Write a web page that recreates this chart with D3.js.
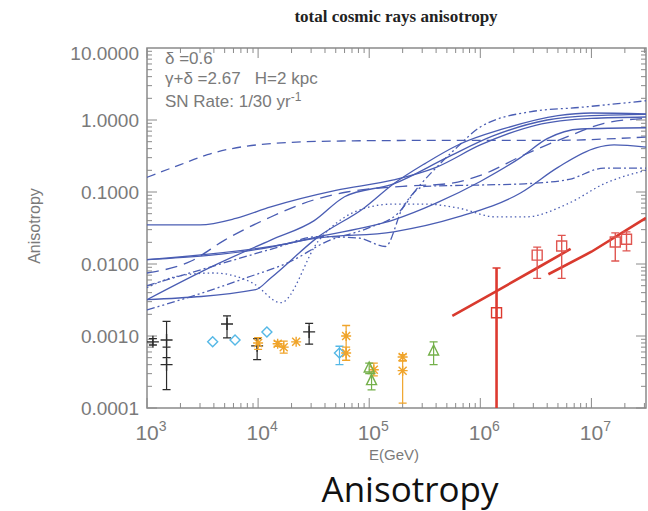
<!DOCTYPE html>
<html>
<head>
<meta charset="utf-8">
<script src="https://cdn.jsdelivr.net/npm/d3@7"></script>
<style>
  body { margin: 0; background: #fff; }
  text { font-family: "Liberation Sans", Arial, sans-serif; }
</style>
</head>
<body>
<div id="chart"></div>
<script>
// Tick labels
const yTickValues = [1e-4, 1e-3, 1e-2, 1e-1, 1, 10];
const yTickLabels = ["0.0001", "0.0010", "0.0100", "0.1000", "1.0000", "10.0000"];
const xTickExps = [3, 4, 5, 6, 7];

// Model curves [E (GeV), anisotropy]
const curveDashedTop = [[1e3,0.16],[2e3,0.24],[3.5e3,0.33],[1.3e4,0.47],[5e4,0.51],[3e5,0.52],[4e6,0.52],[3.1e7,0.58]];
const curveSolidA = [[1e3,0.035],[3e3,0.035],[6.3e3,0.043],[1.3e4,0.062],[5e4,0.105],[1.66e5,0.147],[4e5,0.22],[1e6,0.45],[3.2e6,0.85],[1e7,1.05],[3.1e7,1.1]];
const curveSolidB = [[1e3,0.0115],[1.3e4,0.0172],[3.5e4,0.024],[1.66e5,0.041],[4e5,0.07],[1e6,0.14],[2.3e6,0.3],[4e6,0.55],[8e6,0.75],[3.1e7,0.78]];
const curveSolidC = [[1e3,0.0115],[1.3e4,0.0175],[3.5e4,0.023],[1.66e5,0.028],[6.3e5,0.045],[2.3e6,0.097],[5e6,0.22],[1.1e7,0.41],[1.6e7,0.45],[3.1e7,0.42]];
const curveSolidD = [[1e3,0.0032],[9.5e3,0.0044],[1.3e4,0.0064],[3.5e4,0.024],[9e4,0.06],[1.66e5,0.13],[3.2e5,0.25],[6.3e5,0.45],[1.6e6,0.75],[5e6,1.15],[1e7,1.25],[3.1e7,1.22]];
const curveSolidE = [[1e3,0.0032],[4e3,0.0095],[1.3e4,0.0215],[3.2e4,0.04],[6e4,0.086],[1.66e5,0.13],[5e5,0.3],[1.3e6,0.6],[4e6,1.0],[1e7,1.15],[3.1e7,1.2]];
const curveLongDash = [[1e3,0.0075],[2.5e3,0.011],[5e3,0.0215],[1.3e4,0.045],[3.2e4,0.078],[6.3e4,0.1],[2e5,0.12],[5e5,0.13],[1e6,0.17],[2.5e6,0.33],[6.3e6,0.6],[1.3e7,0.9],[3.1e7,1.05]];
const curveDashDot = [[1e3,0.005],[3.2e3,0.0085],[1.3e4,0.016],[3.5e4,0.024],[8e4,0.023],[1.4e5,0.0175],[2e5,0.06],[3.2e5,0.12],[1e6,0.125],[2.5e6,0.13],[6.3e6,0.15],[1.3e7,0.215],[3.1e7,0.215]];
const curveDashDotDot = [[1e3,0.0023],[3.2e3,0.004],[8e3,0.0065],[2e4,0.011],[4e4,0.02],[1e5,0.032],[1.8e5,0.05],[2.8e5,0.12],[3.8e5,0.2],[6.2e5,0.42],[1e6,0.8],[2.8e6,1.3],[8e6,1.5],[3.1e7,1.85]];
const curveDotted = [[1e3,0.0047],[2e3,0.0069],[4e3,0.0075],[9e3,0.0054],[1.6e4,0.0029],[3.5e4,0.021],[9.3e4,0.06],[1.66e5,0.068],[3.2e5,0.068],[6.3e5,0.06],[1.4e6,0.045],[2.5e6,0.045],[6.3e6,0.07],[1.3e7,0.13],[3.1e7,0.2]];

// Measurements [E, anisotropy, low, high]
const blackPoints = [[1.13e3,0.00083,0.00075,0.00092],[1.5e3,0.00088,0.0005,0.0016],[1.5e3,0.0004,0.00018,0.0007],[5.25e3,0.00147,0.00094,0.0019],[9.8e3,0.00073,0.00047,0.00092],[2.88e4,0.00114,0.00077,0.0015]];
const cyanPoints = [[3.9e3,0.00083,0.00083,0.00083],[6.2e3,0.00088,0.00088,0.00088],[1.2e4,0.00114,0.00114,0.00114],[5.4e4,0.00058,0.0004,0.00072]];
const orangePoints = [[1e4,0.0008,0.00065,0.00095],[1.5e4,0.00078,0.00072,0.00084],[1.7e4,0.0007,0.00058,0.00085],[2.2e4,0.00083,0.00083,0.00083],[6.2e4,0.001,0.00046,0.0014],[6.2e4,0.00058,0.00046,0.0007],[1.1e5,0.00034,0.00028,0.00042],[2.0e5,0.00051,0.00045,0.00055],[2.0e5,0.00033,0.000117,0.00045]];
const greenPoints = [[1.0e5,0.00036,0.0003,0.00042],[1.05e5,0.00024,0.000178,0.0003],[3.8e5,0.00062,0.0004,0.00083]];
const redPoints = [[1.4e6,0.0021,0.00005,0.0088],[3.25e6,0.0133,0.0063,0.0172],[5.4e6,0.0178,0.0063,0.025],[1.64e7,0.0202,0.011,0.027],[2.07e7,0.0221,0.0152,0.028]];
const redLine1 = [[5.6e5,0.0019],[1.4e6,0.0042],[3.25e6,0.0088],[6.5e6,0.0162]];
const redLine2 = [[4.1e6,0.0072],[1e7,0.0148],[3.1e7,0.0436]];

const width = 648, height = 511;
const plot = { left: 147, right: 646, top: 48, bottom: 408 };

const svg = d3.select("#chart")
    .append("svg")
    .attr("width", width)
    .attr("height", height);

const x = d3.scaleLog().domain([1e3, 3.1e7]).range([plot.left, plot.right]);
const y = d3.scaleLog().domain([1e-4, 10]).range([plot.bottom, plot.top]);

const axisColor = "#8a8a8a";
const labelColor = "#7a7a7a";

svg.append("clipPath").attr("id", "clip")
    .append("rect")
    .attr("x", plot.left).attr("y", plot.top)
    .attr("width", plot.right - plot.left).attr("height", plot.bottom - plot.top);

// Title
svg.append("text")
    .attr("x", 396).attr("y", 22)
    .style("text-anchor", "middle")
    .style("font-family", "'Liberation Serif', 'Times New Roman', serif")
    .style("font-size", "17px")
    .style("font-weight", "bold")
    .style("fill", "#222")
    .text("total cosmic rays anisotropy");

// Frame
svg.append("rect")
    .attr("x", plot.left).attr("y", plot.top)
    .attr("width", plot.right - plot.left).attr("height", plot.bottom - plot.top)
    .attr("fill", "none")
    .attr("stroke", axisColor)
    .attr("stroke-width", 1.5);

// Inward ticks on all sides
const ticks = svg.append("g").attr("stroke", axisColor).attr("stroke-width", 1);
for (let p = -4; p <= 0; p++) {
    for (let m = 1; m <= 9; m++) {
        const v = m * Math.pow(10, p);
        const len = m === 1 ? 10 : 5;
        ticks.append("line").attr("x1", plot.left).attr("x2", plot.left + len).attr("y1", y(v)).attr("y2", y(v));
        ticks.append("line").attr("x1", plot.right).attr("x2", plot.right - len).attr("y1", y(v)).attr("y2", y(v));
    }
}
for (let p = 3; p <= 7; p++) {
    for (let m = 1; m <= 9; m++) {
        const v = m * Math.pow(10, p);
        if (v > 3.1e7) continue;
        const len = m === 1 ? 10 : 5;
        ticks.append("line").attr("y1", plot.bottom).attr("y2", plot.bottom - len).attr("x1", x(v)).attr("x2", x(v));
        ticks.append("line").attr("y1", plot.top).attr("y2", plot.top + len).attr("x1", x(v)).attr("x2", x(v));
    }
}

// Y tick labels
svg.selectAll(".ylab")
    .data(yTickValues)
    .enter()
    .append("text")
    .attr("x", plot.left - 8)
    .attr("y", (d, i) => y(d) + 7 + (i === yTickValues.length - 1 ? 5 : 0))
    .style("text-anchor", "end")
    .style("font-size", "19px")
    .style("fill", labelColor)
    .text((d, i) => yTickLabels[i]);

// X tick labels
const xl = svg.selectAll(".xlab")
    .data(xTickExps)
    .enter()
    .append("text")
    .attr("x", d => x(Math.pow(10, d)) + 4)
    .attr("y", 440)
    .style("text-anchor", "middle")
    .style("font-size", "21px")
    .style("fill", labelColor);
xl.append("tspan").text("10");
xl.append("tspan").attr("dy", -9).style("font-size", "14px").text(d => d);

// Axis titles
svg.append("text")
    .attr("x", 394).attr("y", 460)
    .style("text-anchor", "middle")
    .style("font-size", "15px")
    .style("fill", labelColor)
    .text("E(GeV)");

svg.append("text")
    .attr("transform", "rotate(-90)")
    .attr("x", -226).attr("y", 40)
    .style("text-anchor", "middle")
    .style("font-size", "16px")
    .style("fill", labelColor)
    .text("Anisotropy");

// Parameter text
const info = svg.append("g").style("font-size", "17px").style("fill", labelColor);
info.append("text").attr("x", 165).attr("y", 64).text("\u03b4 =0.6");
info.append("text").attr("x", 165).attr("y", 84).text("\u03b3+\u03b4 =2.67\u00a0\u00a0\u00a0H=2 kpc");
const sn = info.append("text").attr("x", 165).attr("y", 107);
sn.append("tspan").text("SN Rate: 1/30 yr");
sn.append("tspan").attr("dy", -6).style("font-size", "12px").text("-1");

// Model curves
const line = d3.line()
    .x(d => x(d[0]))
    .y(d => y(d[1]))
    .curve(d3.curveMonotoneX);

const curves = [
    { data: curveDashedTop, dash: "9,6" },
    { data: curveSolidA, dash: null },
    { data: curveSolidB, dash: null },
    { data: curveSolidC, dash: null },
    { data: curveSolidD, dash: null },
    { data: curveSolidE, dash: null },
    { data: curveLongDash, dash: "12,7" },
    { data: curveDashDot, dash: "8,3,2,3" },
    { data: curveDashDotDot, dash: "8,3,2,3,2,3" },
    { data: curveDotted, dash: "1.5,3" }
];

const curveG = svg.append("g").attr("clip-path", "url(#clip)");
curveG.selectAll(".model")
    .data(curves)
    .enter()
    .append("path")
    .attr("class", "model")
    .attr("d", d => line(d.data))
    .attr("fill", "none")
    .attr("stroke", "#4a5db3")
    .attr("stroke-width", 1.3)
    .attr("stroke-dasharray", d => d.dash);

// Red fitted lines
curveG.selectAll(".redline")
    .data([redLine1, redLine2])
    .enter()
    .append("path")
    .attr("d", d => d3.line().x(p => x(p[0])).y(p => y(p[1]))(d))
    .attr("fill", "none")
    .attr("stroke", "#d93a2e")
    .attr("stroke-width", 2.6);

// Measurements with error bars
function drawGroup(data, color, marker, barWidth) {
    const g = svg.append("g").attr("clip-path", "url(#clip)");
    const pts = g.selectAll("g").data(data).enter().append("g");
    pts.filter(d => d[2] !== d[3]).append("line")
        .attr("x1", d => x(d[0])).attr("x2", d => x(d[0]))
        .attr("y1", d => y(d[2])).attr("y2", d => y(d[3]))
        .attr("stroke", color).attr("stroke-width", barWidth);
    pts.filter(d => d[2] !== d[3]).append("path")
        .attr("d", d => `M${x(d[0]) - 4},${y(d[2])}H${x(d[0]) + 4}M${x(d[0]) - 4},${y(d[3])}H${x(d[0]) + 4}`)
        .attr("stroke", color).attr("stroke-width", 1.3);
    pts.append("path")
        .attr("transform", d => `translate(${x(d[0])},${y(d[1])})`)
        .attr("d", marker)
        .attr("fill", "none")
        .attr("stroke", color)
        .attr("stroke-width", 1.4);
}

const plusMarker = "M-6,0H6M0,-6V6";
const diamondMarker = "M0,-5L5,0L0,5L-5,0Z";
const starMarker = "M-5,0H5M0,-5V5M-4,-4L4,4M-4,4L4,-4";
const triMarker = "M0,-6L5,4H-5Z";
const squareMarker = "M-5,-5H5V5H-5Z";

drawGroup(blackPoints, "#2b2b2b", plusMarker, 1.2);
drawGroup(cyanPoints, "#55b8e6", diamondMarker, 1.2);
drawGroup(orangePoints, "#f0a42a", starMarker, 1.2);
drawGroup(greenPoints, "#74b04a", triMarker, 1.2);
drawGroup(redPoints.slice(0, 1), "#dd3a30", squareMarker, 2.6);
drawGroup(redPoints.slice(1), "#e05550", squareMarker, 1.4);

// Caption
svg.append("text")
    .attr("x", 410).attr("y", 502)
    .style("text-anchor", "middle")
    .style("font-family", "'Open Sans', 'Liberation Sans', sans-serif")
    .style("font-size", "35px")
    .style("fill", "#111")
    .text("Anisotropy");
</script>
</body>
</html>
